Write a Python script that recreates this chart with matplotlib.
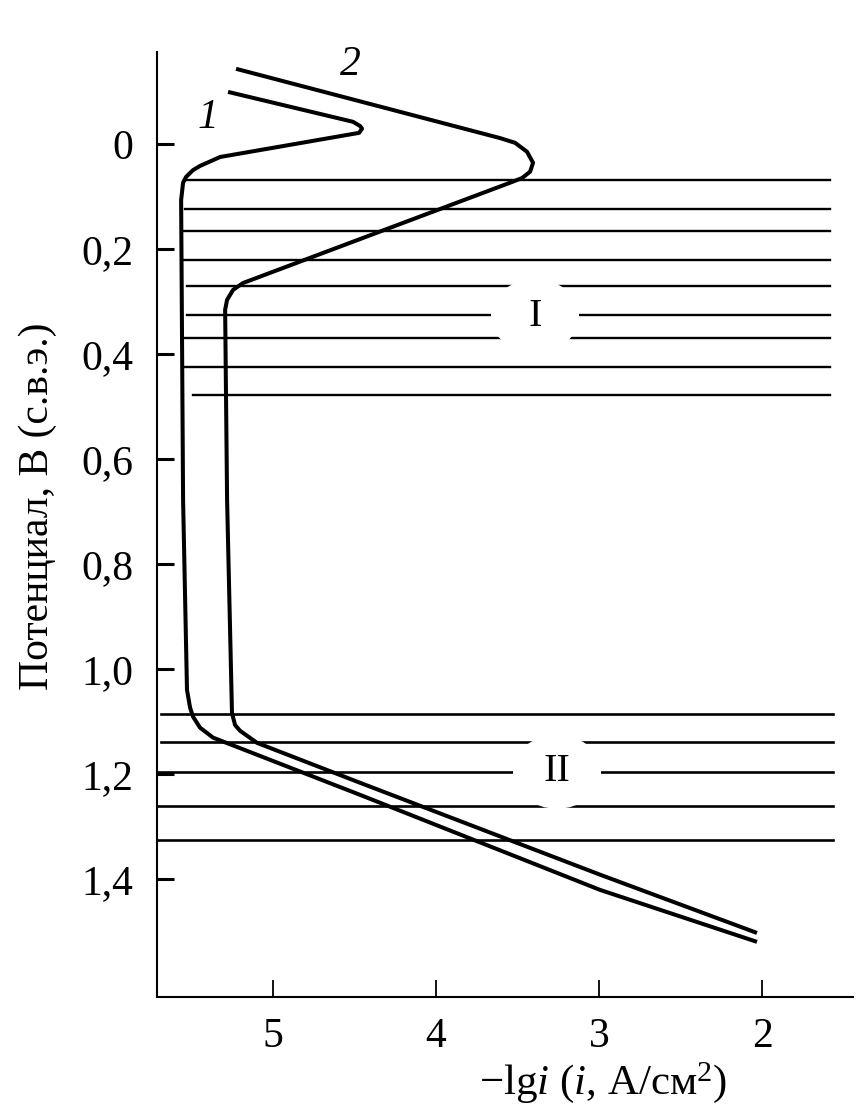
#!/usr/bin/env python3
import matplotlib
matplotlib.use("Agg")
import matplotlib.pyplot as plt
from matplotlib.patches import Ellipse

plt.rcParams["font.family"] = ["Liberation Serif", "DejaVu Serif"]
plt.rcParams["mathtext.fontset"] = "custom"
plt.rcParams["mathtext.rm"] = "Liberation Serif"
plt.rcParams["mathtext.it"] = "Liberation Serif:italic"

# curve 1: -lg i vs potential (V)
c1_x = [5.276, 4.509, 4.466, 4.454, 4.472, 4.509, 5.325, 5.448, 5.491, 5.534,
        5.552, 5.564, 5.552, 5.528, 5.509, 5.491, 5.448, 5.368, 4.466, 2.994, 2.031]
c1_y = [-0.099, -0.042, -0.034, -0.029, -0.021, -0.019, 0.025, 0.042, 0.050, 0.063,
        0.074, 0.107, 0.678, 1.040, 1.074, 1.091, 1.112, 1.131, 1.240, 1.421, 1.520]

# curve 2
c2_x = [5.227, 3.607, 3.515, 3.442, 3.405, 3.423, 3.472, 3.546, 5.184, 5.245,
        5.282, 5.294, 5.282, 5.252, 5.233, 5.202, 5.098, 4.466, 2.994, 2.031]
c2_y = [-0.143, -0.011, -0.002, 0.015, 0.036, 0.053, 0.065, 0.074, 0.265, 0.278,
        0.297, 0.316, 0.678, 1.084, 1.107, 1.118, 1.141, 1.217, 1.392, 1.503]

# hatched regions I and II
zone1_y = [0.069, 0.124, 0.166, 0.221, 0.270, 0.326, 0.370, 0.425, 0.478]
zone1_x0 = [5.528, 5.540, 5.552, 5.552, 5.528, 5.528, 5.540, 5.540, 5.491]
zone1_x1 = 1.583
zone2_y = [1.086, 1.139, 1.196, 1.261, 1.326]
zone2_x0 = [5.687, 5.687, 5.706, 5.706, 5.706]
zone2_x1 = 1.564

zone_labels = ["I", "II"]
zone_label_pos = [(3.393, 0.328), (3.258, 1.196)]

curve_labels = ["1", "2"]
curve_label_pos = [(5.399, -0.050), (4.528, -0.150)]

xticks = [5, 4, 3, 2]
yticks = [0, 0.2, 0.4, 0.6, 0.8, 1.0, 1.2, 1.4]
ytick_labels = ["0", "0,2", "0,4", "0,6", "0,8", "1,0", "1,2", "1,4"]

fig = plt.figure(figsize=(8.6, 11.11), dpi=100)
ax = fig.add_axes([157 / 860, 1 - 997 / 1111, 696 / 860, 945 / 1111])

for y, x0 in zip(zone1_y, zone1_x0):
    ax.plot([x0, zone1_x1], [y, y], color="black", lw=1.7, zorder=2)
for y, x0 in zip(zone2_y, zone2_x0):
    ax.plot([x0, zone2_x1], [y, y], color="black", lw=1.9, zorder=2)

for lab, (x, y) in zip(zone_labels, zone_label_pos):
    ax.add_patch(Ellipse((x, y), 0.54, 0.141, facecolor="white",
                         edgecolor="none", zorder=3))
    ax.text(x, y, lab, fontsize=29, ha="center", va="center", zorder=4)

ax.plot(c1_x, c1_y, color="black", lw=2.9, solid_capstyle="butt",
        solid_joinstyle="round", zorder=5)
ax.plot(c2_x, c2_y, color="black", lw=2.9, solid_capstyle="butt",
        solid_joinstyle="round", zorder=5)

for lab, (x, y) in zip(curve_labels, curve_label_pos):
    ax.text(x, y, lab, fontsize=30, style="italic", ha="center", va="center")

ax.set_xlim(5.712, 1.442)
ax.set_ylim(1.625, -0.175)

ax.spines["top"].set_visible(False)
ax.spines["right"].set_visible(False)
ax.spines["left"].set_linewidth(1.5)
ax.spines["bottom"].set_linewidth(1.5)

ax.set_xticks(xticks)
ax.set_xticklabels([str(t) for t in xticks])
ax.set_yticks(yticks)
ax.set_yticklabels(ytick_labels)
ax.tick_params(axis="y", direction="in", length=12, width=2.2, pad=17, labelsize=30)
ax.tick_params(axis="x", direction="in", length=12, width=1.3, pad=15, labelsize=30)

ax.set_xlabel(r"$-$lg$i$ ($i$, А/см$^2$)", fontsize=31)
ax.xaxis.set_label_coords(0.641, -0.067)
ax.set_ylabel("Потенциал, В (с.в.э.)", fontsize=30, va="center")
ax.yaxis.set_label_coords(-0.171, 0.519)

fig.savefig("out.png", dpi=100)
